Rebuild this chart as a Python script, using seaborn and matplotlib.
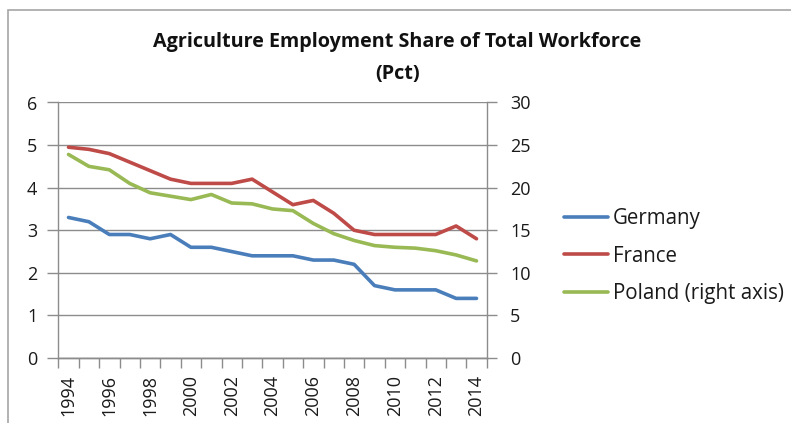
import numpy as np
import pandas as pd
import matplotlib
matplotlib.use("Agg")
import matplotlib.pyplot as plt
import seaborn as sns
from matplotlib.lines import Line2D
from matplotlib.patches import Rectangle

years = list(range(1994, 2015))
germany = [3.3, 3.2, 2.9, 2.9, 2.8, 2.9, 2.6, 2.6, 2.5, 2.4, 2.4, 2.4, 2.3, 2.3, 2.2, 1.7, 1.6, 1.6, 1.6, 1.4, 1.4]
france = [4.95, 4.9, 4.8, 4.6, 4.4, 4.2, 4.1, 4.1, 4.1, 4.2, 3.9, 3.6, 3.7, 3.4, 3.0, 2.9, 2.9, 2.9, 2.9, 3.1, 2.8]
poland = [23.9, 22.5, 22.1, 20.5, 19.4, 19.0, 18.6, 19.2, 18.2, 18.1, 17.5, 17.3, 15.8, 14.6, 13.8, 13.2, 13.0, 12.9, 12.6, 12.1, 11.4]
left_ticks = [0, 1, 2, 3, 4, 5, 6]
right_ticks = [0, 5, 10, 15, 20, 25, 30]
year_labels = [str(y) for y in range(1994, 2015, 2)]
title = "Agriculture Employment Share of Total Workforce\n(Pct)"
legend_labels = ["Germany", "France", "Poland (right axis)"]
colors = {"Germany": "#4A7EBB", "France": "#BE4B48", "Poland (right axis)": "#98B954"}

sns.set_theme(style="white")
plt.rcParams["font.family"] = ["Open Sans", "DejaVu Sans"]

fig = plt.figure(figsize=(7.91, 4.23), dpi=100)
W, H = 791, 423
ax = fig.add_axes([58.3 / W, 1 - 358 / H, (486.7 - 58.3) / W, (358 - 102.5) / H])
ax2 = ax.twinx()

df_left = pd.DataFrame({
    "year": years * 2,
    "value": germany + france,
    "country": ["Germany"] * len(years) + ["France"] * len(years),
})
df_right = pd.DataFrame({"year": years, "value": poland, "country": ["Poland (right axis)"] * len(years)})

lw = 2.6
sns.lineplot(data=df_left, x="year", y="value", hue="country", palette=colors,
             linewidth=lw, ax=ax, legend=False, zorder=3)
sns.lineplot(data=df_right, x="year", y="value", hue="country", palette=colors,
             linewidth=lw, ax=ax2, legend=False, zorder=3)

grid_c = "#8C8C8C"
txt_c = "#1A1A1A"
fs = 13
ax.set_xlim(1993.5, 2014.5)
ax.set_ylim(0, 6)
ax2.set_ylim(0, 30)
ax.set_yticks(left_ticks)
ax2.set_yticks(right_ticks)
ax.set_xticks(list(range(1994, 2015, 2)))
ax.set_xticklabels(year_labels, rotation=90)
ax.set_xticks(np.arange(1993.5, 2015, 1.0), minor=True)
ax.tick_params(axis="x", which="major", length=0, pad=12, labelsize=fs, labelcolor=txt_c)
ax.tick_params(axis="x", which="minor", length=7, width=1, color=grid_c, direction="out", bottom=True)
ax.tick_params(axis="y", length=8, width=1, color=grid_c, direction="out", labelsize=fs,
               labelcolor=txt_c, pad=7, left=True)
ax2.tick_params(axis="y", length=7, width=1, color=grid_c, direction="out", labelsize=fs,
                labelcolor=txt_c, pad=10, right=True)
ax.set_xlabel("")
ax.set_ylabel("")
ax2.set_ylabel("")
ax.yaxis.grid(True, color=grid_c, linewidth=1)
ax.set_axisbelow(True)
for a in (ax, ax2):
    a.spines["top"].set_visible(False)
    for s in ["left", "right", "bottom"]:
        a.spines[s].set_color(grid_c)
        a.spines[s].set_linewidth(1)
ax2.spines["left"].set_visible(False)
ax.spines["right"].set_visible(False)

fig.text(0.502, 1 - 58 / H, title, ha="center", va="center", fontsize=14.2, fontweight="bold",
         color="#111111", linespacing=1.78)

handles = [Line2D([], [], color=colors[k], linewidth=lw) for k in legend_labels]
fig.legend(handles, legend_labels, loc="upper left", bbox_to_anchor=(556 / W, 1 - 200 / H),
           frameon=False, fontsize=14.8, handlelength=2.15, handletextpad=0.2,
           labelspacing=0.8, labelcolor=txt_c, borderaxespad=0)

fig.patches.append(Rectangle((8 / W, -0.1), 1.2, 1 - 10 / H + 0.1, transform=fig.transFigure,
                             fill=False, edgecolor="#A6A6A6", linewidth=1.2))

fig.savefig("out.png", dpi=100)
